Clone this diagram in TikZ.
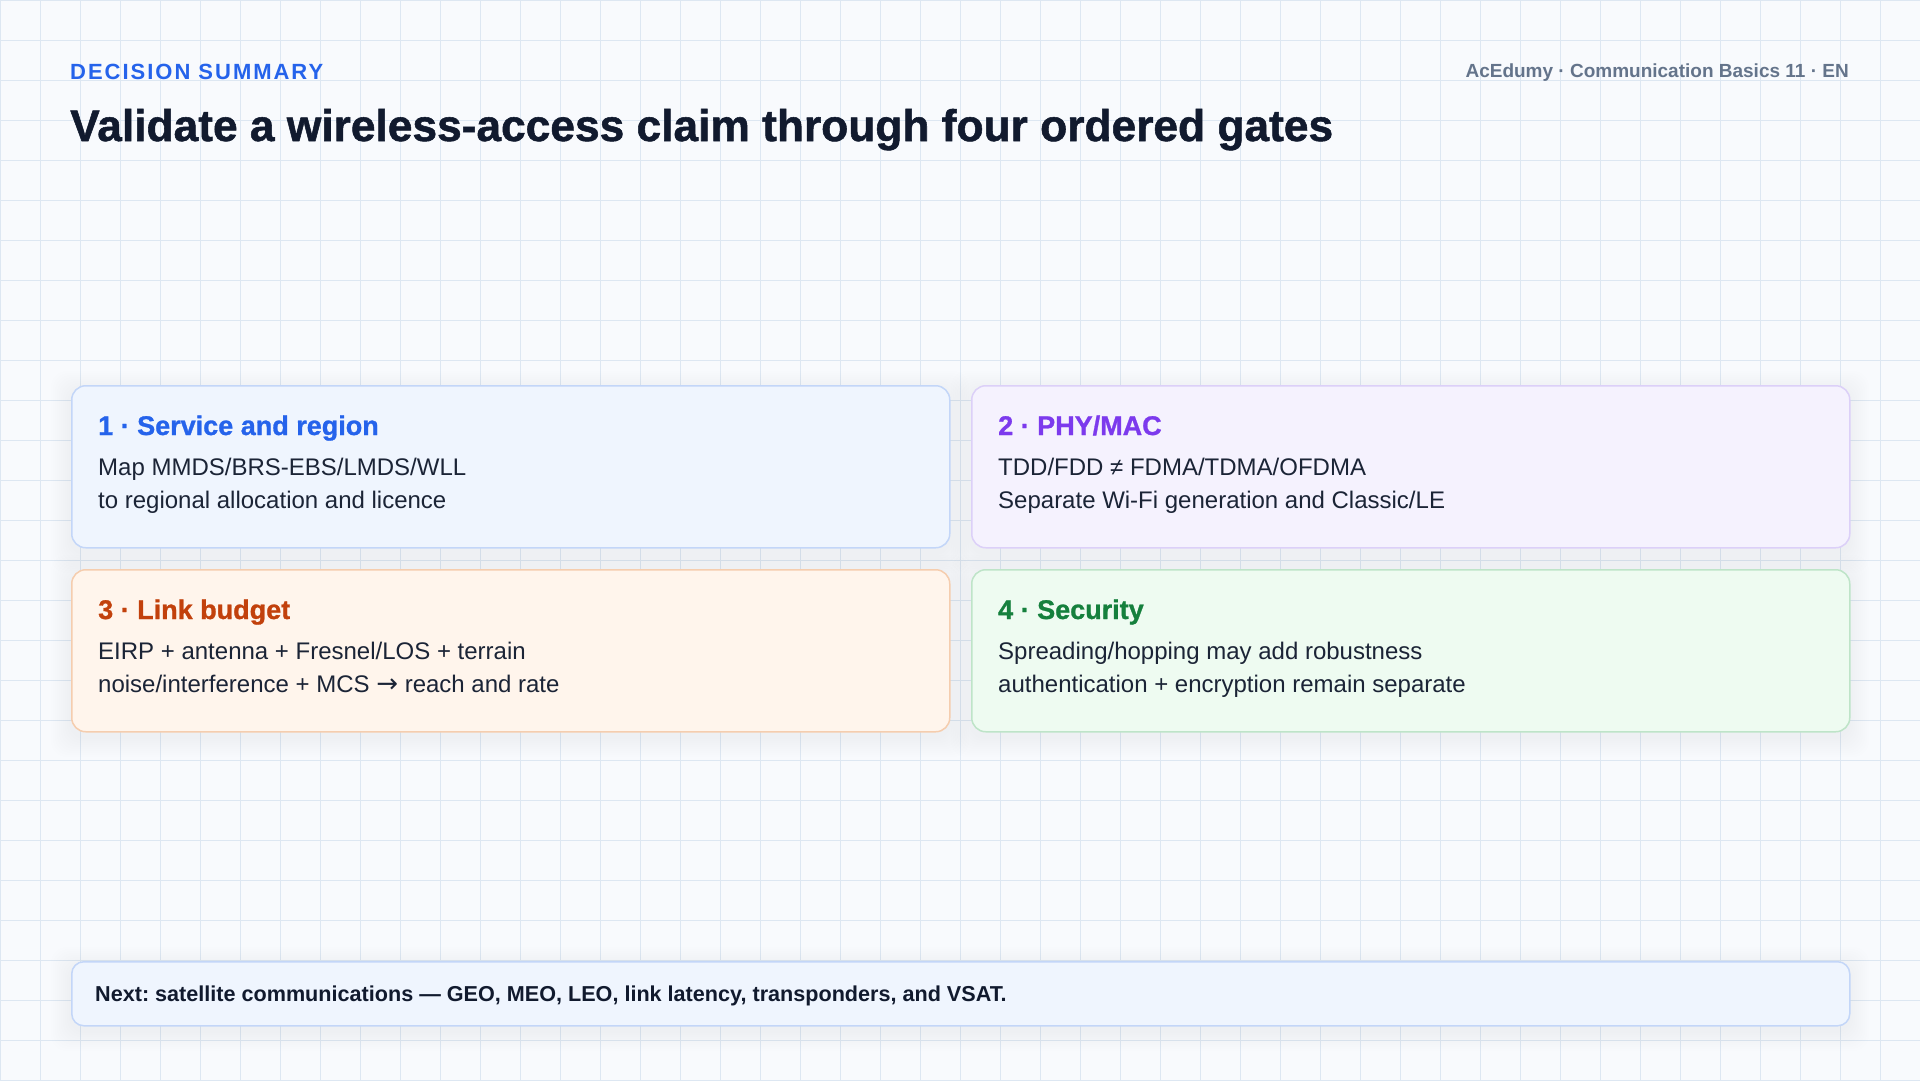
\documentclass[tikz,border=0pt]{standalone}
\usepackage{fontspec}
\setmainfont{Liberation Sans}
\newfontfamily\spacedfont[LetterSpace=9]{Liberation Sans}
\newfontfamily\heavyfont[FakeBold=1.2]{Liberation Sans Bold}
\newfontfamily\semiheavyfont[FakeBold=1.0]{Liberation Sans Bold}
\newfontfamily\symfont{DejaVu Sans}
\definecolor{bgc}{HTML}{F8FAFD}
\definecolor{gridc}{HTML}{DDE7F2}
\definecolor{ink}{HTML}{111A2E}
\definecolor{body}{HTML}{1B2436}
\definecolor{muted}{HTML}{64748B}
\definecolor{blueT}{HTML}{2563EB}
\definecolor{purpT}{HTML}{7C3AED}
\definecolor{orT}{HTML}{C2410C}
\definecolor{grT}{HTML}{15803D}
\definecolor{blueF}{HTML}{EFF5FE}
\definecolor{blueB}{HTML}{C3D6F8}
\definecolor{purpF}{HTML}{F5F2FE}
\definecolor{purpB}{HTML}{DCD0F8}
\definecolor{orF}{HTML}{FFF5EC}
\definecolor{orB}{HTML}{F5CDAE}
\definecolor{grF}{HTML}{EEFBF1}
\definecolor{grB}{HTML}{BEE4C8}
\begin{document}
\frenchspacing
\begin{tikzpicture}[x=1pt,y=-1pt,
  card/.style={draw, line width=1.5pt, rounded corners=14pt, inner sep=0pt, anchor=north west, minimum width=878pt, minimum height=162pt},
  cardtitle/.style={anchor=base west, inner sep=0pt, font=\semiheavyfont\fontsize{27pt}{32pt}\selectfont},
  cardbody/.style={anchor=base west, inner sep=0pt, align=left, text=body, font=\fontsize{24pt}{33pt}\selectfont},
  shade/.style={fill=black, opacity=0.0055, rounded corners=16pt}
]
\useasboundingbox (0,0) rectangle (1920,1080);
\fill[bgc] (0,0) rectangle (1920,1080);
\foreach \gx in {0,40,...,1920} \draw[gridc, line width=1pt] (\gx,0) -- (\gx,1080);
\foreach \gy in {0,40,...,1080} \draw[gridc, line width=1pt] (0,\gy) -- (1920,\gy);

% soft shadows
\foreach \sx/\sy/\sw/\sh in {71/385/878/162, 971/385/878/162, 71/569/878/162, 971/569/878/162, 71/961/1778/64}{
  \foreach \i in {2,4,...,20}
    \fill[shade] (\sx-\i,\sy+6-\i) rectangle (\sx+\sw+\i,\sy+\sh+6+\i);
}

% header
\node[anchor=base west, inner sep=0pt, text=blueT, font=\spacedfont\fontsize{22pt}{26pt}\selectfont\bfseries] (kicker) at (70,79) {DECISION SUMMARY};
\node[anchor=base west, inner sep=0pt, text=ink, font=\heavyfont\fontsize{44.3pt}{50pt}\selectfont] (title) at (70,141) {Validate a wireless-access claim through four ordered gates};
\node[anchor=base east, inner sep=0pt, text=muted, font=\fontsize{19pt}{23pt}\selectfont\bfseries] (brand) at (1849,77) {AcEdumy · Communication Basics 11 · EN};

% cards
\node[card, fill=blueF, draw=blueB] (c1) at (71,385) {};
\node[card, fill=purpF, draw=purpB] (c2) at (971,385) {};
\node[card, fill=orF, draw=orB] (c3) at (71,569) {};
\node[card, fill=grF, draw=grB] (c4) at (971,569) {};

\node[cardtitle, text=blueT] (t1) at (98,435) {1 · Service and region};
\node[cardbody] (b1a) at (98,475) {Map MMDS/BRS-EBS/LMDS/WLL};
\node[cardbody] (b1b) at (98,508) {to regional allocation and licence};

\node[cardtitle, text=purpT] (t2) at (998,435) {2 · PHY/MAC};
\node[cardbody] (b2a) at (998,475) {TDD/FDD ≠ FDMA/TDMA/OFDMA};
\node[cardbody] (b2b) at (998,508) {Separate Wi-Fi generation and Classic/LE};

\node[cardtitle, text=orT] (t3) at (98,619) {3 · Link budget};
\node[cardbody] (b3a) at (98,659) {EIRP + antenna + Fresnel/LOS + terrain};
\node[cardbody] (b3b) at (98,692) {noise/interference + MCS {\symfont\fontsize{26pt}{26pt}\selectfont →} reach and rate};

\node[cardtitle, text=grT] (t4) at (998,619) {4 · Security};
\node[cardbody] (b4a) at (998,659) {Spreading/hopping may add robustness};
\node[cardbody] (b4b) at (998,692) {authentication + encryption remain separate};

% footer
\node[draw=blueB, fill=blueF, line width=1.5pt, rounded corners=12pt, anchor=north west, minimum width=1778pt, minimum height=64pt, inner sep=0pt] (foot) at (71,961) {};
\node[anchor=base west, inner sep=0pt, text=ink, font=\fontsize{21.6pt}{26pt}\selectfont\bfseries] (foottext) at (95,1001) {Next: satellite communications — GEO, MEO, LEO, link latency, transponders, and VSAT.};
\end{tikzpicture}
\end{document}
